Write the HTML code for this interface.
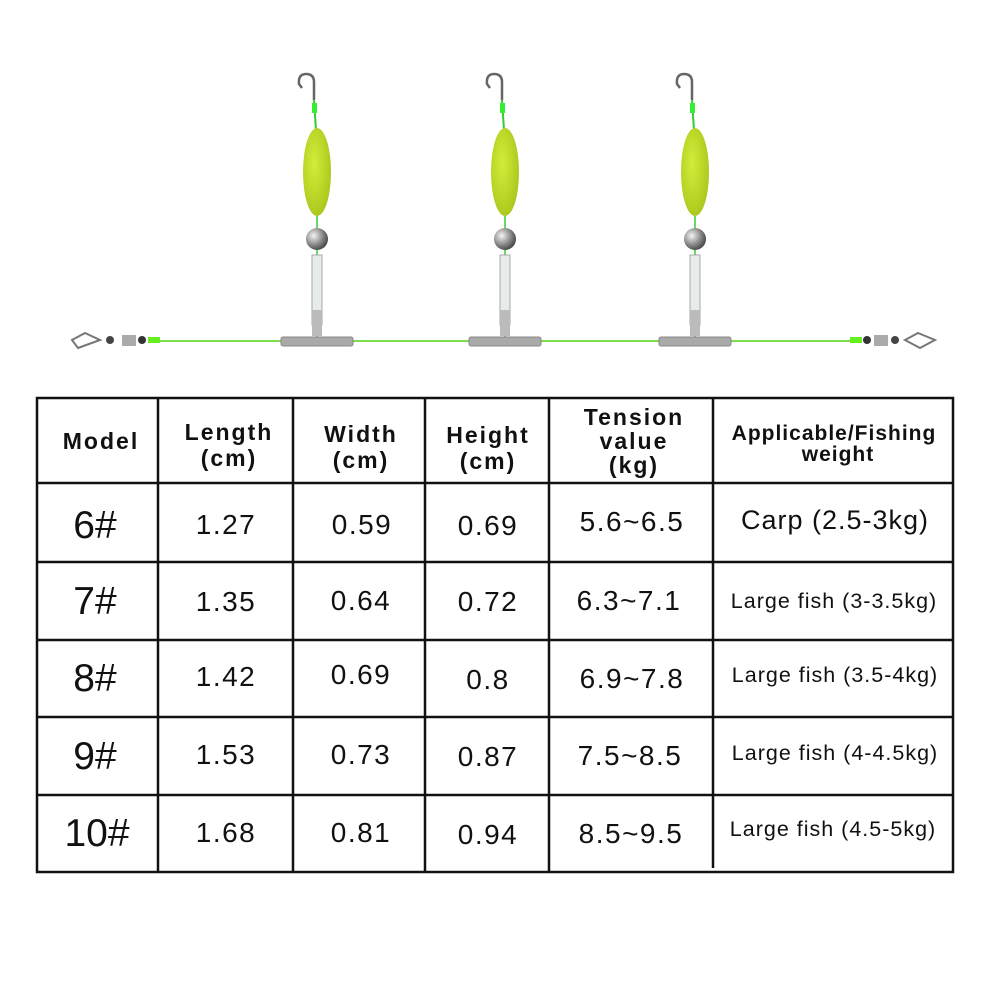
<!DOCTYPE html>
<html><head><meta charset="utf-8"><style>
html,body{margin:0;padding:0;background:#fff;}
svg{display:block}
</style></head><body>
<svg width="1000" height="1000" viewBox="0 0 1000 1000" xmlns="http://www.w3.org/2000/svg">
<defs>
<radialGradient id="fl" cx="0.4" cy="0.4" r="0.7"><stop offset="0" stop-color="#d4ec3a"/><stop offset="1" stop-color="#a7c41a"/></radialGradient>
<radialGradient id="bl" cx="0.35" cy="0.35" r="0.7"><stop offset="0" stop-color="#f4f4f4"/><stop offset="0.6" stop-color="#888"/><stop offset="1" stop-color="#444"/></radialGradient>
<g id="st">
<path d="M -3 100 L -3 82 Q -3 74 -11 74 Q -19 74 -18 84 L -15 88" fill="none" stroke="#666" stroke-width="2.5"/>
<line x1="-3" y1="100" x2="-1" y2="130" stroke="#3c3" stroke-width="2"/>
<rect x="-5" y="103" width="5" height="10" fill="#3e3"/>
<ellipse cx="0" cy="172" rx="14" ry="44" fill="url(#fl)"/>
<line x1="0" y1="216" x2="0" y2="340" stroke="#3c3" stroke-width="1.5"/>
<circle cx="0" cy="239" r="11" fill="url(#bl)"/>
<rect x="-5" y="255" width="10" height="70" fill="#e8ece8" stroke="#aaa" stroke-width="1"/>
<rect x="-5" y="310" width="10" height="26" fill="#bbb"/>
<rect x="-36" y="337" width="72" height="9" rx="2" fill="#aaa" stroke="#888"/>
</g>
</defs>
<line x1="150" y1="341" x2="850" y2="341" stroke="#7ddc4a" stroke-width="2"/>
<path d="M 78 348 L 72 340 L 85 333 L 100 340 Z" fill="none" stroke="#777" stroke-width="2"/>
<circle cx="110" cy="340" r="4" fill="#444"/>
<rect x="122" y="335" width="14" height="11" fill="#aaa"/>
<circle cx="142" cy="340" r="4" fill="#333"/>
<rect x="148" y="337" width="12" height="6" fill="#6e2"/>
<use href="#st" x="317"/>
<use href="#st" x="505"/>
<use href="#st" x="695"/>
<rect x="850" y="337" width="12" height="6" fill="#6e2"/>
<circle cx="867" cy="340" r="4" fill="#333"/>
<rect x="874" y="335" width="14" height="11" fill="#aaa"/>
<circle cx="895" cy="340" r="4" fill="#444"/>
<path d="M 918 333 L 935 340 L 920 348 L 905 340 Z" fill="none" stroke="#777" stroke-width="2"/>

<g stroke="#111" stroke-width="2.5" fill="none">
<rect x="37" y="398" width="916" height="474"/>
<line x1="158" y1="398" x2="158" y2="872"/>
<line x1="293" y1="398" x2="293" y2="872"/>
<line x1="425" y1="398" x2="425" y2="872"/>
<line x1="549" y1="398" x2="549" y2="872"/>
<line x1="713" y1="398" x2="713" y2="868"/>
<line x1="37" y1="483" x2="953" y2="483"/>
<line x1="37" y1="562" x2="953" y2="562"/>
<line x1="37" y1="640" x2="953" y2="640"/>
<line x1="37" y1="717" x2="953" y2="717"/>
<line x1="37" y1="795" x2="953" y2="795"/>
</g>
<g font-family="Liberation Sans, sans-serif" font-weight="bold" font-size="23" text-anchor="middle" fill="#111" letter-spacing="2">
<text x="101" y="449">Model</text>
<text x="229" y="440">Length</text><text x="229" y="466">(cm)</text>
<text x="361" y="442">Width</text><text x="361" y="468">(cm)</text>
<text x="488" y="443">Height</text><text x="488" y="469">(cm)</text>
<text x="634" y="425">Tension</text><text x="634" y="449">value</text><text x="634" y="473">(kg)</text>
<text x="834" y="440" font-size="21" letter-spacing="1">Applicable/Fishing</text><text x="838" y="461" font-size="21" letter-spacing="1">weight</text>
</g>
<g font-family="Liberation Sans, sans-serif" font-size="28" text-anchor="middle" fill="#111" letter-spacing="1.5">
<text x="95" y="538" font-size="39" letter-spacing="0">6#</text>
<text x="95" y="614" font-size="39" letter-spacing="0">7#</text>
<text x="95" y="691" font-size="39" letter-spacing="0">8#</text>
<text x="95" y="769" font-size="39" letter-spacing="0">9#</text>
<text x="97" y="846" font-size="39" letter-spacing="0">10#</text>
<text x="226" y="534">1.27</text><text x="226" y="611">1.35</text><text x="226" y="686">1.42</text><text x="226" y="764">1.53</text><text x="226" y="842">1.68</text>
<text x="362" y="534">0.59</text><text x="361" y="610">0.64</text><text x="361" y="684">0.69</text><text x="361" y="764">0.73</text><text x="361" y="842">0.81</text>
<text x="488" y="535">0.69</text><text x="488" y="611">0.72</text><text x="488" y="689">0.8</text><text x="488" y="766">0.87</text><text x="488" y="844">0.94</text>
<text x="632" y="531">5.6~6.5</text><text x="629" y="610">6.3~7.1</text><text x="632" y="688">6.9~7.8</text><text x="630" y="765">7.5~8.5</text><text x="631" y="843">8.5~9.5</text>
<text x="835" y="529" font-size="27" letter-spacing="1">Carp (2.5-3kg)</text>
<text x="834" y="608" font-size="21.5" letter-spacing="1">Large fish (3-3.5kg)</text>
<text x="835" y="682" font-size="21.5" letter-spacing="1">Large fish (3.5-4kg)</text>
<text x="835" y="760" font-size="21.5" letter-spacing="1">Large fish (4-4.5kg)</text>
<text x="833" y="836" font-size="21.5" letter-spacing="1">Large fish (4.5-5kg)</text>
</g>
</svg>
</body></html>
